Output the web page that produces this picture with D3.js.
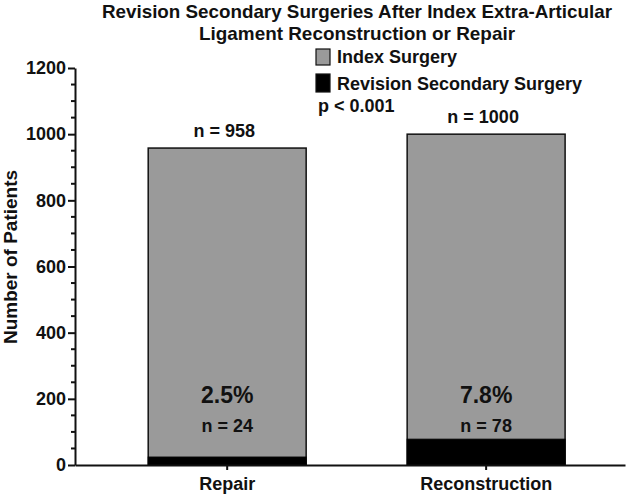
<!DOCTYPE html>
<html>
<head>
<meta charset="utf-8">
<script src="https://cdn.jsdelivr.net/npm/d3@7"></script>
<style>
  body { margin: 0; background: #fff; }
  svg text { font-family: "Liberation Sans", Arial, sans-serif; font-weight: bold; fill: #111; }
</style>
</head>
<body>
<div id="chart"></div>
<script>
// data
const categories = ["Repair", "Reconstruction"];
const indexTotals = [958, 1000];
const revisionCounts = [24, 78];
const revisionPct = ["2.5%", "7.8%"];
const yTicks = [0, 200, 400, 600, 800, 1000, 1200];
const titleLines = ["Revision Secondary Surgeries After Index Extra-Articular",
                    "Ligament Reconstruction or Repair"];
const legendLabels = ["Index Surgery", "Revision Secondary Surgery"];
const pText = "p < 0.001";

const width = 627, height = 494;
const gray = "#9a9a9a";

const svg = d3.select("#chart").append("svg")
    .attr("width", width)
    .attr("height", height);

// scales
const x = d3.scaleBand()
    .domain(categories)
    .range([75, 625])
    .paddingInner(0.39)
    .paddingOuter(0.257)
    .align(0.55);

const y = d3.scaleLinear()
    .domain([0, 1200])
    .range([465, 68]);

// title
svg.selectAll(".title")
    .data(titleLines)
    .enter()
  .append("text")
    .attr("class", "title")
    .attr("x", 357)
    .attr("y", (d, i) => 18 + i * 22)
    .attr("text-anchor", "middle")
    .style("font-size", "19px")
    .attr("textLength", (d, i) => i === 0 ? 510 : 316)
    .attr("lengthAdjust", "spacingAndGlyphs")
    .text(d => d);

// bars: gray index bar, black revision part at the bottom
const bars = svg.selectAll(".bar")
    .data(categories)
    .enter()
  .append("g")
    .attr("class", "bar");

bars.append("rect")
    .attr("x", d => x(d))
    .attr("y", (d, i) => y(indexTotals[i]))
    .attr("width", x.bandwidth())
    .attr("height", (d, i) => y(0) - y(indexTotals[i]))
    .attr("fill", gray)
    .attr("stroke", "#111")
    .attr("stroke-width", 1.5);

bars.append("rect")
    .attr("x", d => x(d))
    .attr("y", (d, i) => y(revisionCounts[i]))
    .attr("width", x.bandwidth())
    .attr("height", (d, i) => y(0) - y(revisionCounts[i]))
    .attr("fill", "#000")
    .attr("stroke", "#000")
    .attr("stroke-width", 1);

// labels on bars
bars.append("text")
    .attr("x", d => x(d) + x.bandwidth() / 2 - 3)
    .attr("y", (d, i) => y(indexTotals[i]) - 11)
    .attr("text-anchor", "middle")
    .style("font-size", "18px")
    .text((d, i) => "n = " + indexTotals[i]);

bars.append("text")
    .attr("x", d => x(d) + x.bandwidth() / 2)
    .attr("y", 403)
    .attr("text-anchor", "middle")
    .style("font-size", "23px")
    .text((d, i) => revisionPct[i]);

bars.append("text")
    .attr("x", d => x(d) + x.bandwidth() / 2)
    .attr("y", 432)
    .attr("text-anchor", "middle")
    .style("font-size", "18px")
    .text((d, i) => "n = " + revisionCounts[i]);

// y axis
const yAxis = svg.append("g")
    .attr("transform", "translate(75,0)")
    .call(d3.axisLeft(y).tickValues(yTicks).tickFormat(d3.format("d"))
        .tickSize(7).tickPadding(2).tickSizeOuter(0));
yAxis.select(".domain").attr("stroke", "#111").attr("stroke-width", 2);
yAxis.selectAll(".tick line").attr("stroke", "#111").attr("stroke-width", 2);
yAxis.selectAll(".tick text")
    .style("font-size", "18px")
    .attr("fill", "#111");

// minor ticks every 50
const minor = d3.range(50, 1200, 50).filter(v => v % 200 !== 0);
svg.append("g")
    .selectAll("line")
    .data(minor)
    .enter()
  .append("line")
    .attr("x1", 71)
    .attr("x2", 75)
    .attr("y1", d => y(d))
    .attr("y2", d => y(d))
    .attr("stroke", "#111")
    .attr("stroke-width", 2);

// x axis
const xAxis = svg.append("g")
    .attr("transform", "translate(0," + y(0) + ")")
    .call(d3.axisBottom(x).tickSize(5).tickPadding(7).tickSizeOuter(0));
xAxis.select(".domain").attr("stroke", "#111").attr("stroke-width", 2);
xAxis.selectAll(".tick line").attr("stroke", "#111").attr("stroke-width", 2);
xAxis.selectAll(".tick text")
    .style("font-size", "18px")
    .attr("fill", "#111");

// y label
svg.append("text")
    .attr("transform", "rotate(-90)")
    .attr("x", -257)
    .attr("y", 17)
    .attr("text-anchor", "middle")
    .style("font-size", "19px")
    .text("Number of Patients");

// legend
const legend = svg.append("g");
const legendColors = [gray, "#000"];
legend.selectAll("rect")
    .data(legendLabels)
    .enter()
  .append("rect")
    .attr("x", 316)
    .attr("y", (d, i) => 49 + i * 25)
    .attr("width", 14)
    .attr("height", (d, i) => i === 0 ? 16 : 18)
    .attr("fill", (d, i) => legendColors[i])
    .attr("stroke", "#111")
    .attr("stroke-width", 1.2);
legend.selectAll("text")
    .data(legendLabels)
    .enter()
  .append("text")
    .attr("x", 337)
    .attr("y", (d, i) => 63 + i * 27)
    .style("font-size", "18px")
    .text(d => d);

svg.append("text")
    .attr("x", 318)
    .attr("y", 112)
    .style("font-size", "18px")
    .text(pText);
</script>
</body>
</html>
